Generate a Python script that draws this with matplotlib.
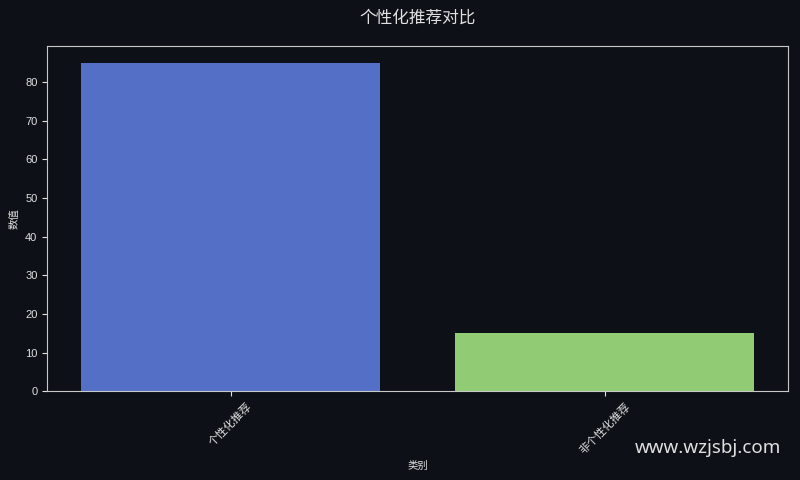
import matplotlib.pyplot as plt

plt.rcParams["font.family"] = ["Liberation Sans", "Noto Sans CJK SC", "DejaVu Sans"]

categories = ["个性化推荐", "非个性化推荐"]
values = [85, 15]
bar_colors = ["#5470c6", "#91cc75"]

BG = "#0d1017"
FG = "#e0e0e0"

fig = plt.figure(figsize=(8, 4.8), dpi=100, facecolor=BG)
ax = fig.add_axes([0.059, 0.185, 0.926, 0.719], facecolor=BG)

ax.bar(categories, values, width=0.8, color=bar_colors)

ax.set_ylim(0, max(values) * 1.05)
# title is centred over the axes, not the figure
fig.suptitle("个性化推荐对比", color=FG, fontsize=12, x=0.522, y=0.98)
ax.set_xlabel("类别", color=FG, fontsize=7.5, labelpad=4)
ax.set_ylabel("数值", color=FG, fontsize=7.5)

ax.tick_params(colors=FG, labelsize=8)
plt.setp(ax.get_xticklabels(), rotation=45, fontsize=8)
for spine in ax.spines.values():
    spine.set_color("#c8c8c8")

fig.text(0.976, 0.066, "www.wzjsbj.com", color=FG, fontsize=13.5,
         family=["Noto Sans", "DejaVu Sans"], ha="right", va="center")

fig.savefig("out.png", dpi=100, facecolor=BG)
